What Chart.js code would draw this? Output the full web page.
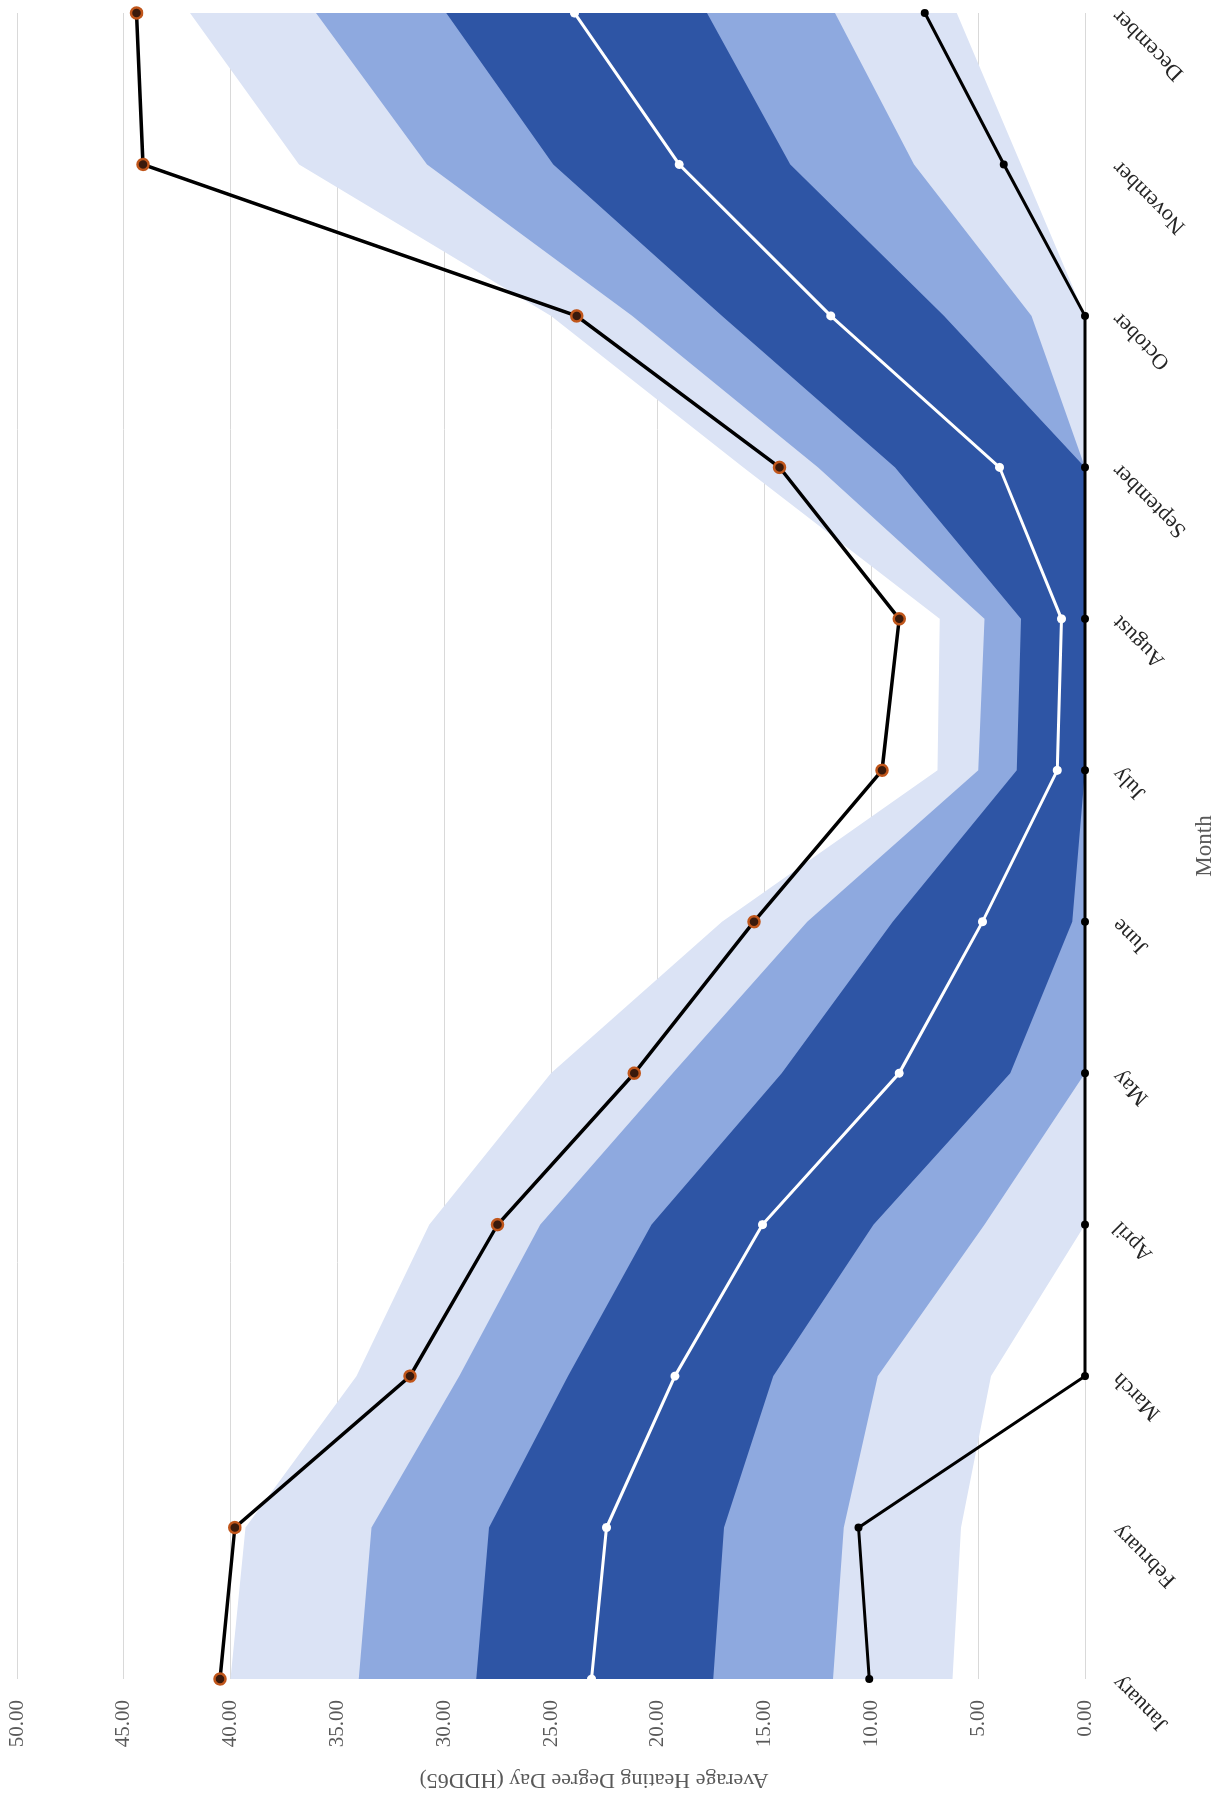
<!DOCTYPE html>
<html>
<head>
<meta charset="utf-8">
<script src="https://cdn.jsdelivr.net/npm/chart.js"></script>
<style>
  html, body { margin: 0; padding: 0; background: #fff; overflow: hidden; }
  /* the chart is drawn landscape and turned a quarter turn, like the reference */
  #wrap {
    position: absolute; left: 0; top: 0;
    width: 1802px; height: 1228px;
    transform-origin: 0 0;
    transform: translateY(1802px) rotate(-90deg);
  }
</style>
</head>
<body>
<div id="wrap"><canvas id="hdd_chart" width="1802" height="1228"></canvas></div>
<script>
const months = ['January','February','March','April','May','June','July','August','September','October','November','December'];

const meanHdd = [23.1, 22.4, 19.2, 15.1, 8.7, 4.8, 1.3, 1.1, 4.0, 11.9, 19.0, 23.9];
const maxHdd  = [40.5, 39.8, 31.6, 27.5, 21.1, 15.5, 9.5, 8.7, 14.3, 23.8, 44.1, 44.4];
const minHdd  = [10.1, 10.6, 0, 0, 0, 0, 0, 0, 0, 0, 3.8, 7.5];

// shaded bands, upper and lower edge per month
const lightHi = [40.0, 39.3, 34.1, 30.7, 25.0, 17.0, 6.9, 6.8, 16.0, 25.0, 36.8, 41.9];
const lightLo = [6.2, 5.8, 4.4, 0, 0, 0, 0, 0, 0, 0, 3.0, 6.0];
const midHi   = [34.0, 33.4, 29.3, 25.5, 19.3, 13.0, 5.0, 4.7, 12.5, 21.2, 30.8, 36.0];
const midLo   = [11.8, 11.3, 9.7, 4.7, 0, 0, 0, 0, 0, 2.5, 8.0, 11.7];
const darkHi  = [28.5, 27.9, 24.2, 20.3, 14.2, 9.0, 3.2, 3.0, 8.9, 17.0, 24.9, 29.9];
const darkLo  = [17.4, 16.9, 14.6, 9.9, 3.5, 0.6, 0, 0, 0, 6.6, 13.8, 17.7];

const yTicks = [0, 5, 10, 15, 20, 25, 30, 35, 40, 45, 50];
const yTitle = 'Average Heating Degree Day (HDD65)';

const serif = "'Liberation Serif', 'Times New Roman', serif";

const band = (hi, lo, color, order) => [
  { data: hi, fill: '+1', backgroundColor: color, borderWidth: 0, pointRadius: 0, order: order },
  { data: lo, fill: false, borderWidth: 0, pointRadius: 0, order: order }
];

// value-axis title, sits a little below the middle of the axis in the original
const yTitlePlugin = {
  id: 'yTitle',
  afterDraw(chart) {
    const c = chart.ctx;
    c.save();
    c.translate(22, 594);
    c.rotate(-Math.PI / 2);
    c.font = '22px ' + serif;
    c.fillStyle = '#595959';
    c.textAlign = 'center';
    c.textBaseline = 'middle';
    c.fillText(yTitle, 0, 0);
    c.restore();
  }
};

const ctx = document.getElementById('hdd_chart');

new Chart(ctx, {
  type: 'line',
  data: {
    labels: months,
    datasets: [
      ...band(lightHi, lightLo, '#dbe3f5', 9),
      ...band(midHi, midLo, '#8ea9df', 8),
      ...band(darkHi, darkLo, '#2e55a5', 7),
      {
        data: minHdd, borderColor: '#000', borderWidth: 3, fill: false,
        pointRadius: 4, pointBackgroundColor: '#000', pointBorderWidth: 0,
        clip: false, order: 3
      },
      {
        data: maxHdd, borderColor: '#000', borderWidth: 3.5, fill: false,
        pointRadius: 5.5, pointBackgroundColor: '#3a1a0c', pointBorderColor: '#c0561b', pointBorderWidth: 2.5,
        clip: false, order: 2
      },
      {
        data: meanHdd, borderColor: '#fff', borderWidth: 3, fill: false,
        pointRadius: 4.5, pointBackgroundColor: '#fff', pointBorderWidth: 0,
        clip: false, order: 1
      }
    ]
  },
  options: {
    responsive: false,
    animation: false,
    events: [],
    layout: { padding: { top: 17, right: 13, left: 0, bottom: 0 } },
    elements: { line: { tension: 0 } },
    plugins: {
      legend: { display: false },
      tooltip: { enabled: false }
    },
    scales: {
      x: {
        grid: { display: false },
        border: { display: false },
        ticks: {
          autoSkip: false, minRotation: 45, maxRotation: 45, padding: 14,
          color: '#262626', font: { family: serif, size: 22 }
        },
        title: {
          display: true, text: 'Month', color: '#595959',
          font: { family: serif, size: 23 }, padding: { top: 0, bottom: 9 }
        },
        afterFit: (scale) => {
          scale.height = 143;
          scale.paddingRight = 0;
          scale.paddingLeft = 0;
        }
      },
      y: {
        min: 0, max: 50,
        afterBuildTicks: (scale) => { scale.ticks = yTicks.map(v => ({ value: v })); },
        ticks: {
          padding: 21, color: '#595959', font: { family: serif, size: 21 },
          callback: (v) => Number(v).toFixed(2)
        },
        grid: { color: '#d9d9d9', lineWidth: 1, drawTicks: false },
        border: { display: false },
        afterFit: (scale) => {
          scale.width = 123;
          scale.paddingTop = 0;
          scale.paddingBottom = 0;
        }
      }
    }
  },
  plugins: [yTitlePlugin]
});
</script>
</body>
</html>
